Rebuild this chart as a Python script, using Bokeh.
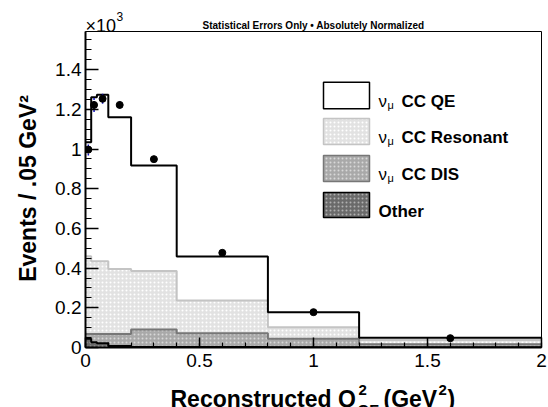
import math
from bokeh.plotting import figure
from bokeh.models import Label, BoxAnnotation, FixedTicker, Range1d
from bokeh.core.properties import value
from bokeh.embed import file_html
from bokeh.resources import INLINE

# ---------------- data ----------------
edges = [0.0, 0.025, 0.05, 0.1, 0.2, 0.4, 0.8, 1.2, 2.0]
other = [44, 27, 22, 7, 3, 2, 1, 1]
dis = [24, 41, 46, 61, 88, 70, 43, 15]
res = [392, 367, 367, 327, 295, 165, 58, 22]
qe = [574, 826, 838, 765, 531, 221, 76, 11]
data = [997, 1222, 1253, 1222, 949, 477, 178, 47]
data_err = [30, 35, 25, 18, 12, 6, 3, 1.5]

y_tick_vals = [0, 200, 400, 600, 800, 1000, 1200, 1400]
y_tick_labels = ["0", "0.2", "0.4", "0.6", "0.8", "1", "1.2", "1.4"]
x_tick_vals = [0, 0.5, 1, 1.5, 2]
x_tick_labels = ["0", "0.5", "1", "1.5", "2"]

legend_names = ["CC QE", "CC Resonant", "CC DIS", "Other"]
title_text = "Statistical Errors Only \u2022 Absolutely Normalized"
y_title = "Events / .05 GeV\u00b2"

XMIN, XMAX, YMAX = 0.0, 2.0, 1592.0

# stacked tops
top_other = [o for o in other]
top_dis = [a + b for a, b in zip(top_other, dis)]
top_res = [a + b for a, b in zip(top_dis, res)]
top_qe = [a + b for a, b in zip(top_res, qe)]
centers = [(edges[i] + edges[i + 1]) / 2 for i in range(len(edges) - 1)]

FONT = "Liberation Sans"
W, H = 548, 407
FX0, FX1, FY0, FY1 = 85, 541, 31, 347

p = figure(width=W, height=H, x_range=Range1d(XMIN, XMAX), y_range=Range1d(0, YMAX),
           output_backend="svg", toolbar_location=None,
           min_border_left=FX0, min_border_right=W - FX1, min_border_top=FY0,
           min_border_bottom=H - FY1)
p.xgrid.visible = False
p.ygrid.visible = False
p.outline_line_color = "black"
p.outline_line_width = 1
p.background_fill_color = "white"
p.border_fill_color = "white"

# title (above panel)
p.title.text = title_text
p.title.text_font = FONT
p.title.text_font_size = "10px"
p.title.text_font_style = "bold"
p.title.align = "center"
p.title.vertical_align = "bottom"
p.title.standoff = 1
p.title.text_color = "black"

def dx(px):
    return XMIN + (px - FX0) / (FX1 - FX0) * (XMAX - XMIN)
def dy(py):
    return (FY1 - py) / (FY1 - FY0) * YMAX

def step_poly(tops):
    xs, ys = [], []
    for i, t in enumerate(tops):
        xs += [edges[i], edges[i + 1]]
        ys += [t, t]
    xs += [edges[-1], edges[0]]
    ys += [0, 0]
    return xs, ys

styles = [
    (top_res, "#e2e2e2", "white", "#c4c4c4"),
    (top_dis, "#a9a9a9", "#d8d8d8", "#777777"),
    (top_other, "#6a6a6a", "#b0b0b0", "black"),
]
for tops, fc, hc, lc in styles:
    xs, ys = step_poly(tops)
    p.patch(xs, ys, fill_color=fc, line_alpha=0, hatch_pattern="dot",
            hatch_color=hc, hatch_scale=4, hatch_weight=1.5)
for tops, fc, hc, lc in styles:
    p.step(edges, tops + [tops[-1]], mode="after", line_color=lc, line_width=2)

p.step(edges, top_qe + [top_qe[-1]], mode="after", line_color="black", line_width=2)

# data points with stat errors
lo = [d - e for d, e in zip(data, data_err)]
hi = [d + e for d, e in zip(data, data_err)]
p.segment(x0=centers, y0=lo, x1=centers, y1=hi, line_color="#1010c0", line_width=1.5, line_dash="2 1")
p.scatter(centers, data, size=7, marker="circle", fill_color="black", line_color="black")

# axes
p.yaxis.ticker = FixedTicker(ticks=y_tick_vals, minor_ticks=list(range(0, 1600, 50)))
p.yaxis.major_label_overrides = {v: l for v, l in zip(y_tick_vals, y_tick_labels)}
p.xaxis.ticker = FixedTicker(ticks=x_tick_vals, minor_ticks=[i / 10 for i in range(0, 21)])
p.xaxis.major_label_overrides = {v: l for v, l in zip(x_tick_vals, x_tick_labels)}
for ax in (p.xaxis, p.yaxis):
    ax.axis_line_width = 2
    ax.axis_line_color = "black"
    ax.major_tick_out = 0
    ax.minor_tick_out = 0
    ax.major_tick_line_width = 1.5
    ax.minor_tick_line_width = 1.2
    ax.major_label_text_font = FONT
    ax.major_label_text_font_size = "19px"
    ax.major_label_text_color = "black"
p.yaxis.major_tick_in = 13
p.yaxis.minor_tick_in = 6
p.xaxis.major_tick_in = 10
p.xaxis.minor_tick_in = 5
p.yaxis.major_label_standoff = 4
p.xaxis.major_label_standoff = 6

# texts outside the frame as overlay-level text glyphs
def otext(px, py, text, size, bold=False, align="left", angle=0.0):
    p.text(x=[dx(px)], y=[dy(py)], text=[text], text_font=value(FONT),
           text_font_size=value(f"{size}px"), text_font_style="bold" if bold else "normal",
           text_color="black", text_align=align, text_baseline="alphabetic",
           angle=angle, level="overlay")

# y title
otext(27, 188, y_title, 23, bold=True, align="center", angle=math.pi / 2)

# exponent
otext(85, 25, "\u00d710", 18)
otext(116, 16, "3", 12)

# x title pieces
x0 = 170
otext(x0, 398, "Reconstructed Q", 23, bold=True)
otext(x0 + 188, 389, "2", 15, bold=True)
otext(x0 + 187, 409, "QE", 15, bold=True)
otext(x0 + 213, 398, "(GeV", 23, bold=True)
otext(x0 + 268, 389, "2", 15, bold=True)
otext(x0 + 277, 398, ")", 23, bold=True)

def lab(px, py, text, size, bold=False):
    p.add_layout(Label(x=dx(px), y=dy(py), text=text, text_font=FONT,
                       text_font_size=f"{size}px", text_font_style="bold" if bold else "normal",
                       text_align="left", text_baseline="alphabetic", text_color="black"))

# legend
box_rows = [(81.7, 108.3), (118, 144), (155, 181), (192, 217)]
box_styles = [
    ("white", None, "black"),
    ("#e2e2e2", "white", "#c4c4c4"),
    ("#a9a9a9", "#d8d8d8", "#777777"),
    ("#6a6a6a", "#b0b0b0", "black"),
]
for (t, b), (fc, hc, lc), name in zip(box_rows, box_styles, legend_names):
    kw = dict(left=dx(323), right=dx(369), top=dy(t), bottom=dy(b), fill_color=fc,
              fill_alpha=1, line_color=lc, line_alpha=1, line_width=1.5, level="overlay")
    if hc:
        kw.update(hatch_pattern="dot", hatch_color=hc, hatch_scale=4, hatch_weight=1.5)
    p.add_layout(BoxAnnotation(**kw))
    base = (t + b) / 2 + 6
    if name == "Other":
        lab(378, base, name, 17, bold=True)
    else:
        lab(378, base, "\u03bd", 17)
        lab(387, base + 3, "\u03bc", 11)
        lab(401, base, name, 17, bold=True)

open("out.html", "w").write(file_html(p, INLINE))
